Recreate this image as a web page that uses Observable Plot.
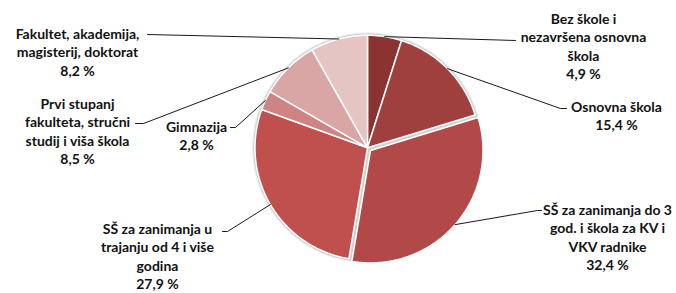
<!DOCTYPE html>
<html>
<head>
<meta charset="utf-8">
<script src="https://cdn.jsdelivr.net/npm/d3@7"></script>
<script src="https://cdn.jsdelivr.net/npm/@observablehq/plot@0.6"></script>
<style>
  html, body { margin: 0; padding: 0; background: #fff; }
  #chart svg { display: block; }
</style>
</head>
<body>
<div id="chart"></div>
<script>
// ---- data ----
const categories = [
  "Bez škole i\nnezavršena osnovna\nškola",
  "Osnovna škola",
  "SŠ za zanimanja do 3\ngod. i škola za KV i\nVKV radnike",
  "SŠ za zanimanja u\ntrajanju od 4 i više\ngodina",
  "Gimnazija",
  "Prvi stupanj\nfakulteta, stručni\nstudij i viša škola",
  "Fakultet, akademija,\nmagisterij, doktorat"
];
const shares = [4.9, 15.4, 32.4, 27.9, 2.8, 8.5, 8.2];
const shareLabels = ["4,9 %", "15,4 %", "32,4 %", "27,9 %", "2,8 %", "8,5 %", "8,2 %"];
const colors = ["#893432", "#9F403E", "#B04947", "#C0504D", "#CD8483", "#D9A6A5", "#E5C4C4"];
const exploded = [false, false, true, false, false, false, false];

// ---- layout ----
const W = 676, H = 293;
const cx = 367, cy = 147.3, R = 112.5, explode = 4;
// label block centres and leader-line elbows (pixels)
const labelPos = [
  {x: 583, y: 45,  elbow: [[515, 40]]},
  {x: 616, y: 114.5, elbow: [[560, 108], [566, 108]]},
  {x: 607, y: 236, elbow: [[537, 210], [541, 210]]},
  {x: 157, y: 255, elbow: [[227, 231], [222, 231]]},
  {x: 196, y: 134.5, elbow: [[235, 127], [230, 127]]},
  {x: 77,  y: 130, elbow: [[143, 123], [135, 123]]},
  {x: 77,  y: 51,  elbow: [[147, 34]]}
];

const total = d3.sum(shares);
let acc = 0;
const slices = shares.map((v, i) => {
  const a0 = acc / total * 2 * Math.PI;
  acc += v;
  const a1 = acc / total * 2 * Math.PI;
  const am = (a0 + a1) / 2;
  const ox = exploded[i] ? explode * Math.sin(am) : 0;
  const oy = exploded[i] ? -explode * Math.cos(am) : 0;
  const pts = [{x: cx + ox, y: cy + oy}];
  const n = Math.max(2, Math.ceil((a1 - a0) / (Math.PI / 180)));
  for (let k = 0; k <= n; k++) {
    const a = a0 + (a1 - a0) * k / n;
    pts.push({x: cx + ox + R * Math.sin(a), y: cy + oy - R * Math.cos(a)});
  }
  pts.push({x: cx + ox, y: cy + oy});
  const anchor = {x: cx + ox + R * Math.sin(am), y: cy + oy - R * Math.cos(am)};
  return {pts, color: colors[i], anchor};
});

const leaders = slices.map((s, i) => [s.anchor, ...labelPos[i].elbow.map(([x, y]) => ({x, y}))]);
const labels = categories.map((c, i) => ({x: labelPos[i].x, y: labelPos[i].y, text: c + "\n" + shareLabels[i]}));

const marks = [
  Plot.dot([{x: cx, y: cy}], {x: "x", y: "y", r: R + 3, fill: "#eeeeee", stroke: "none"}),
  Plot.dot([{x: cx, y: cy}], {x: "x", y: "y", r: R + 1.8, fill: "#cfcfcf", stroke: "none"}),
  ...slices.map(s => Plot.line(s.pts, {x: "x", y: "y", fill: s.color, stroke: "white", strokeWidth: 1.5, strokeLinejoin: "round"})),
  ...leaders.map(l => Plot.line(l, {x: "x", y: "y", stroke: "#1a1a1a", strokeWidth: 1})),
  Plot.text(labels, {x: "x", y: "y", text: "text", fontFamily: "Lato", fontWeight: "bold", fontSize: 14, lineHeight: 1.31, fill: "#111", lineAnchor: "middle"})
];

const chart = Plot.plot({
  width: W, height: H,
  margin: 0,
  x: {domain: [0, W], range: [0, W], axis: null},
  y: {domain: [0, H], range: [0, H], axis: null},
  style: {background: "white"},
  marks
});
document.getElementById("chart").append(chart);
</script>
</body>
</html>
